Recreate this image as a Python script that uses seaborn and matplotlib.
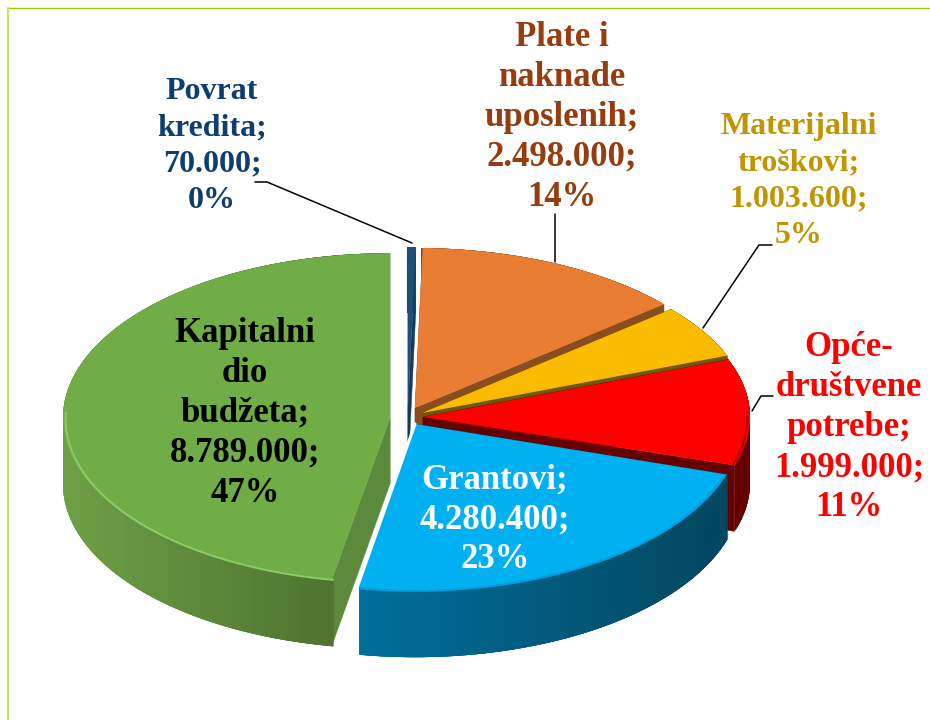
import numpy as np
import seaborn as sns
import matplotlib.pyplot as plt
from matplotlib.collections import PolyCollection
from matplotlib.colors import to_rgb
from matplotlib.transforms import Affine2D

# --- data ---
names = ["Povrat\nkredita", "Plate i\nnaknade\nuposlenih", "Materijalni\ntroškovi",
         "Opće-\ndruštvene\npotrebe", "Grantovi", "Kapitalni\ndio\nbudžeta"]
values = [70000, 2498000, 1003600, 1999000, 4280400, 8789000]
percents = ["0%", "14%", "5%", "11%", "23%", "47%"]

# --- styles ---
top_colors = ["#1f4e79", "#e97d33", "#fbbc00", "#ff0000", "#00b0f0", "#70ad47"]
wall_colors = ["#143a5c", "#8a4d20", "#6f5600", "#650000", "#03465f", "#5b8a3c"]
side_left = ["#1f4e79", "#8a4d20", "#6f5600", "#650000", "#006f9c", "#6da046"]
side_right = ["#143a5c", "#8a4d20", "#6f5600", "#650000", "#03465f", "#476a2b"]
rim_colors = [None, None, None, "#b00000", "#00a0dc", "#8ccb66"]
text_colors = ["#0f3d6e", "#963c0e", "#c09500", "#ff0000", "#ffffff", "#000000"]
font_sizes = [23, 25, 23, 25, 25, 25]
line_gaps = [1.33, 1.28, 1.33, 1.28, 1.28, 1.28]
label_pos = [(212, 146), (562, 117), (799, 181), (849, 428), (495, 520), (245, 413)]
slice_shift = [(-5, -5), (2, -4), (9, 1), (10, 5), (2, 12), (-23, 6)]
slice_stretch = [1, 1, 1, 1, 1.045, 1.03]   # perspective: front slices look taller
draw_order = [0, 1, 2, 3, 5, 4]
leaders = [[(255, 182), (267, 182), (412, 243)],
           [(555, 214), (555, 262)],
           [(772, 245), (759, 245), (703, 328)],
           [(773, 396), (761, 396), (752, 411)]]

W, H = 930, 720
RX, RY = 327, 160   # pixels per unit of pie radius
CX, CY = 413, 412
DEPTH = 66


def px(x, y):
    # picture pixels to data units
    return x / RX, (H - y) / RY


sns.set_theme(style="white")
plt.rcParams["font.family"] = ["Liberation Serif", "DejaVu Serif"]

fig, ax = plt.subplots(figsize=(W / 100, H / 100), dpi=100)
fig.subplots_adjust(0, 0, 1, 1)

wedges, _ = ax.pie(values, colors=top_colors, startangle=90, counterclock=False,
                   center=px(CX, CY), radius=1)
ax.set_aspect("auto")
ax.set_xlim(0, W / RX)
ax.set_ylim(0, H / RY)
ax.axis("off")

d = DEPTH / RY
for rank, i in enumerate(draw_order):
    w = wedges[i]
    c = px(CX + slice_shift[i][0], CY + slice_shift[i][1])
    k = slice_stretch[i]
    w.set_center(c)
    w.set_transform(Affine2D().translate(-c[0], -c[1]).scale(1, k).translate(c[0], c[1]) + ax.transData)
    z = 10 + rank * 4
    w.set_zorder(z + 2)
    w.set_edgecolor("none")

    # radial walls
    for th in (w.theta1, w.theta2):
        ex = c[0] + np.cos(np.radians(th))
        ey = c[1] + k * np.sin(np.radians(th))
        ax.fill([c[0], ex, ex, c[0]], [c[1], ey, ey - d, c[1] - d],
                color=wall_colors[i], lw=0.3, zorder=z)

    # curved side, shaded left to right; strips overlap so no seams show
    th = np.radians(np.arange(w.theta1, w.theta2 + 0.5, 0.5))
    xs = c[0] + np.cos(th)
    ys = c[1] + k * np.sin(th)
    quads = []
    for n in range(len(th) - 1):
        m = min(n + 4, len(th) - 1)
        quads.append([(xs[n], ys[n]), (xs[m], ys[m]), (xs[m], ys[m] - d), (xs[n], ys[n] - d)])
    t = (xs[:-1] - xs.min()) / max(xs.max() - xs.min(), 1e-6)
    a, b = np.array(to_rgb(side_left[i])), np.array(to_rgb(side_right[i]))
    cols = [a + (b - a) * v for v in t]
    ax.add_collection(PolyCollection(quads, facecolors=cols, edgecolors="none", linewidths=0, zorder=z + 1))

    # bevel along the front of the rim
    if rim_colors[i]:
        front = np.sin(th) < 0.05
        ax.plot((c[0] + 0.992 * np.cos(th))[front], (c[1] + k * 0.992 * np.sin(th) - 0.006)[front],
                color=rim_colors[i], lw=1.4, zorder=z + 3, solid_capstyle="butt")

# white gap along the left edge of the blue slice
blue = wedges[4]
bc = blue.center
ang = np.radians(blue.theta1)
bx, by = bc[0] + np.cos(ang), bc[1] + slice_stretch[4] * np.sin(ang)
ax.plot([bc[0], bx], [bc[1], by], color="white", lw=2.2, zorder=50)
ax.plot([bx, bx], [by, by - d], color="white", lw=2.2, zorder=50)

# leader lines
for pts in leaders:
    lx, ly = zip(*[px(*p) for p in pts])
    ax.plot(lx, ly, color="black", lw=1.1, zorder=60)

# labels: name; value; percent
for name, val, pct, col, fs, gap, pos in zip(names, values, percents, text_colors, font_sizes, line_gaps, label_pos):
    txt = f"{name};\n{val:,}".replace(",", ".") + f";\n{pct}"
    lx, ly = px(*pos)
    ax.text(lx, ly, txt, color=col, fontsize=fs, fontweight="bold", ha="center", va="center",
            linespacing=gap, multialignment="center", zorder=70)

# frame of the slide: only top and left are visible
x0, y0 = px(8, 8)
x1, y1 = px(W, H)
ax.plot([x0, x1], [y0, y0], color="#9fcf00", lw=1.0, zorder=5)
ax.plot([x0, x0], [y0, y1], color="#c6e56c", lw=1.6, zorder=5)

fig.savefig("out.png", dpi=100)
